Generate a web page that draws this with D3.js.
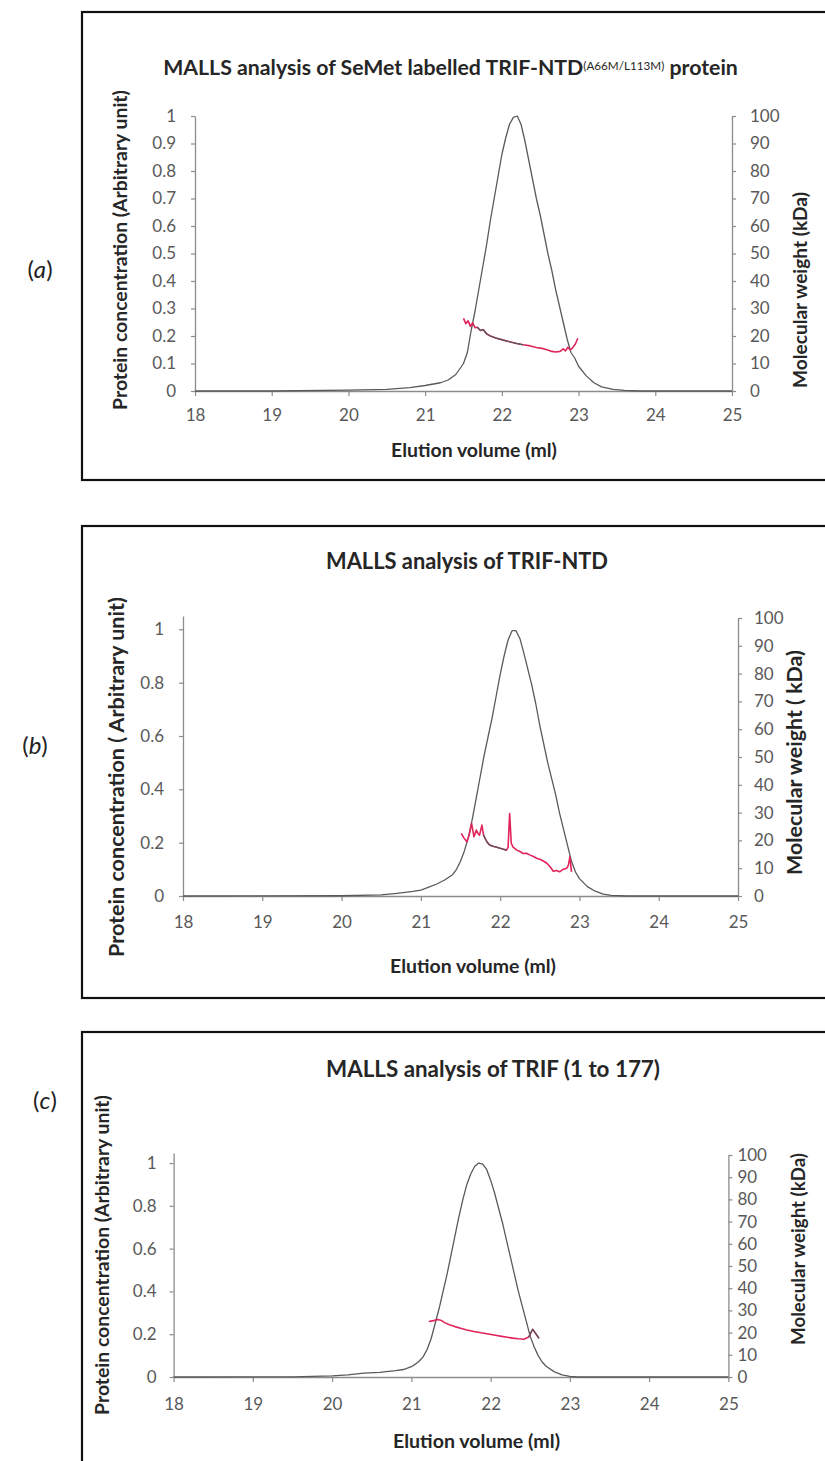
<!DOCTYPE html>
<html>
<head>
<meta charset="utf-8">
<script src="https://cdn.jsdelivr.net/npm/d3@7"></script>
<style>
  html, body { margin: 0; padding: 0; background: #fff; }
  svg { display: block; }
  text { font-family: Lato, "Open Sans", sans-serif; }
</style>
</head>
<body>
<svg id="fig" width="825" height="1461"></svg>
<script>
// ---- Axis ticks shared by the three chromatograms ----
const elutionTicks = [18, 19, 20, 21, 22, 23, 24, 25];
const concTicksFine = [0, 0.1, 0.2, 0.3, 0.4, 0.5, 0.6, 0.7, 0.8, 0.9, 1];
const concTicksCoarse = [0, 0.2, 0.4, 0.6, 0.8, 1];
const mwTicks = [0, 10, 20, 30, 40, 50, 60, 70, 80, 90, 100];

// ---- (a) SeMet labelled TRIF-NTD(A66M/L113M) ----
const volA  = [18, 19, 20.0, 20.5, 20.8, 21.0, 21.2, 21.3, 21.4, 21.5, 21.55, 21.6, 21.65, 21.7, 21.75, 21.8, 21.85, 21.9, 21.95, 22.0, 22.05, 22.1, 22.15, 22.2, 22.25, 22.3, 22.35, 22.4, 22.45, 22.5, 22.55, 22.6, 22.65, 22.7, 22.75, 22.8, 22.85, 22.9, 22.95, 23.0, 23.1, 23.2, 23.3, 23.45, 23.6, 23.8, 25];
const concA = [0, 0, 0.003, 0.006, 0.012, 0.02, 0.03, 0.04, 0.06, 0.10, 0.14, 0.22, 0.29, 0.37, 0.45, 0.53, 0.62, 0.70, 0.78, 0.86, 0.92, 0.97, 0.995, 1.0, 0.97, 0.91, 0.84, 0.77, 0.70, 0.64, 0.57, 0.50, 0.44, 0.37, 0.31, 0.25, 0.19, 0.14, 0.12, 0.09, 0.055, 0.03, 0.015, 0.006, 0.002, 0, 0];
const mwVolA = [21.50, 21.53, 21.56, 21.59, 21.62, 21.65, 21.68, 21.72, 21.76, 21.80, 21.85, 21.93, 22.02, 22.10, 22.19, 22.28, 22.37, 22.45, 22.54, 22.60, 22.65, 22.70, 22.76, 22.80, 22.83, 22.86, 22.89, 22.92, 22.96, 22.99];
const mwA    = [26.4, 24.5, 25.5, 23.5, 24.8, 23.0, 23.2, 22.0, 22.3, 20.8, 20.0, 19.2, 18.5, 17.9, 17.3, 16.8, 16.4, 15.8, 15.4, 14.9, 14.4, 14.2, 14.4, 15.3, 14.6, 15.9, 15.0, 15.6, 17.2, 19.2];
const mwDarkA = [21.66, 22.36];

// ---- (b) TRIF-NTD ----
const volB  = [18, 20.0, 20.5, 20.7, 20.9, 21.0, 21.1, 21.2, 21.3, 21.4, 21.45, 21.5, 21.55, 21.6, 21.65, 21.7, 21.75, 21.8, 21.85, 21.9, 21.95, 22.0, 22.05, 22.1, 22.15, 22.2, 22.25, 22.3, 22.35, 22.4, 22.45, 22.5, 22.55, 22.6, 22.65, 22.7, 22.75, 22.8, 22.85, 22.9, 22.95, 23.0, 23.1, 23.2, 23.3, 23.4, 23.6, 25];
const concB = [0, 0.001, 0.004, 0.01, 0.017, 0.022, 0.033, 0.045, 0.06, 0.08, 0.10, 0.13, 0.17, 0.22, 0.29, 0.37, 0.45, 0.53, 0.60, 0.67, 0.75, 0.83, 0.90, 0.96, 0.995, 0.995, 0.965, 0.91, 0.85, 0.79, 0.72, 0.64, 0.57, 0.50, 0.44, 0.38, 0.31, 0.25, 0.19, 0.13, 0.09, 0.065, 0.035, 0.018, 0.007, 0.002, 0, 0];
const mwVolB = [21.51, 21.54, 21.58, 21.61, 21.64, 21.67, 21.70, 21.72, 21.74, 21.77, 21.79, 21.81, 21.84, 21.87, 21.92, 21.96, 22.02, 22.08, 22.10, 22.12, 22.14, 22.16, 22.21, 22.25, 22.29, 22.33, 22.38, 22.42, 22.46, 22.50, 22.55, 22.59, 22.63, 22.67, 22.71, 22.75, 22.79, 22.84, 22.86, 22.88, 22.90];
const mwB    = [22.5, 21.0, 19.5, 22.0, 26.1, 21.3, 23.7, 22.5, 21.9, 25.5, 22.0, 20.7, 19.2, 18.3, 17.8, 17.5, 17.0, 16.5, 17.5, 29.7, 19.0, 17.7, 16.5, 16.0, 15.3, 15.4, 14.7, 14.2, 13.6, 13.2, 12.5, 11.8, 10.5, 8.9, 9.2, 8.7, 9.5, 10.0, 11.0, 14.1, 8.7];
const mwDarkB = [21.79, 22.09];

// ---- (c) TRIF (1 to 177) ----
const volC  = [18, 19.5, 20.0, 20.2, 20.4, 20.6, 20.8, 20.9, 21.0, 21.05, 21.1, 21.15, 21.2, 21.25, 21.3, 21.35, 21.4, 21.45, 21.5, 21.55, 21.6, 21.65, 21.7, 21.75, 21.8, 21.85, 21.9, 21.95, 22.0, 22.05, 22.1, 22.15, 22.2, 22.25, 22.3, 22.35, 22.4, 22.45, 22.5, 22.55, 22.6, 22.65, 22.7, 22.8, 22.9, 23.0, 23.1, 25];
const concC = [0, 0.001, 0.005, 0.01, 0.018, 0.022, 0.03, 0.035, 0.048, 0.06, 0.075, 0.095, 0.13, 0.18, 0.25, 0.32, 0.40, 0.48, 0.57, 0.66, 0.75, 0.83, 0.90, 0.95, 0.985, 1.0, 0.995, 0.97, 0.92, 0.86, 0.79, 0.72, 0.64, 0.56, 0.48, 0.40, 0.33, 0.26, 0.19, 0.14, 0.10, 0.07, 0.05, 0.025, 0.01, 0.003, 0, 0];
const mwVolC = [21.22, 21.28, 21.33, 21.37, 21.42, 21.48, 21.55, 21.62, 21.70, 21.79, 21.88, 21.97, 22.06, 22.14, 22.21, 22.28, 22.35, 22.42, 22.48, 22.53, 22.57, 22.61];
const mwC    = [25.0, 25.4, 25.9, 25.6, 24.5, 23.5, 22.7, 22.0, 21.2, 20.5, 19.9, 19.4, 18.8, 18.3, 17.9, 17.5, 17.2, 17.0, 18.0, 21.5, 19.5, 17.4];
const mwDarkC = [22.47, 22.62];

const zip = (xs, ys) => xs.map((x, i) => [x, ys[i]]);

const panels = [
  {
    tag: "a", tagPos: [40, 272],
    box: [82, 12, 760, 468],
    xRange: [195, 732], y0: 391, yTopLeft: 116, leftMax: 1, yTopRight: 116,
    leftTicks: concTicksFine, tickLabelY: 27, leftGap: 15, rightGap: 14,
    title: [{ t: "MALLS analysis of SeMet labelled TRIF-NTD" }, { t: "(A66M/L113M)", sup: true }, { t: " protein" }],
    titleBox: [163, 738, 75],
    xTitle: [391, 557, 452],
    yTitleLeft: { x: 122, y0: 90, y1: 410, text: "Protein concentration (Arbitrary unit)" },
    yTitleRight: { x: 802, y0: 192, y1: 388, text: "Molecular weight (kDa)" },
    vol: volA, conc: concA, mwVol: mwVolA, mw: mwA, dark: mwDarkA
  },
  {
    tag: "b", tagPos: [35, 748],
    box: [82, 526, 760, 472],
    xRange: [183, 738], y0: 896, yTopLeft: 616, leftMax: 1.05, yTopRight: 618,
    leftTicks: concTicksCoarse, tickLabelY: 29, leftGap: 15, rightGap: 12,
    title: [{ t: "MALLS analysis of TRIF-NTD" }],
    titleBox: [326, 608, 569],
    xTitle: [390, 556, 968],
    yTitleLeft: { x: 118, y0: 597, y1: 957, text: "Protein concentration ( Arbitrary unit)" },
    yTitleRight: { x: 797, y0: 650, y1: 875, text: "Molecular weight ( kDa)" },
    vol: volB, conc: concB, mwVol: mwVolB, mw: mwB, dark: mwDarkB
  },
  {
    tag: "c", tagPos: [45, 1103],
    box: [82, 1032, 760, 450],
    xRange: [173.6, 728.4], y0: 1377, yTopLeft: 1153, leftMax: 1.047, yTopRight: 1155,
    leftTicks: concTicksCoarse, tickLabelY: 30, leftGap: 13, rightGap: 5,
    title: [{ t: "MALLS analysis of TRIF (1 to 177)" }],
    titleBox: [326, 660, 1077],
    xTitle: [393, 560, 1443],
    yTitleLeft: { x: 104, y0: 1095, y1: 1415, text: "Protein concentration (Arbitrary unit)" },
    yTitleRight: { x: 800, y0: 1153, y1: 1345, text: "Molecular weight (kDa)" },
    vol: volC, conc: concC, mwVol: mwVolC, mw: mwC, dark: mwDarkC
  }
];

const svg = d3.select("#fig");
const AXIS = "#8c8c8c", TICKTXT = "#595959", TEXT = "#262626";
const TRACE = "#5a5a5a", MWRED = "#e0245a", MWDARK = "#4d5a58";
const fmt = d => String(+d.toFixed(2));

// scale a text element's font size so that its run spans the given length
function fitText(sel, length) {
  const node = sel.node();
  const fs = parseFloat(sel.attr("font-size"));
  const w = node.getComputedTextLength();
  if (w > 0) sel.attr("font-size", (fs * length / w).toFixed(2));
}

panels.forEach(p => {
  const g = svg.append("g");

  // frame around each chart
  g.append("rect")
    .attr("x", p.box[0]).attr("y", p.box[1])
    .attr("width", p.box[2]).attr("height", p.box[3])
    .attr("fill", "none").attr("stroke", "#111").attr("stroke-width", 2.2);

  const tag = g.append("text")
    .attr("x", p.tagPos[0]).attr("y", p.tagPos[1])
    .attr("text-anchor", "middle").attr("dominant-baseline", "middle")
    .attr("font-size", 24).attr("fill", "#222");
  tag.append("tspan").text("(");
  tag.append("tspan").text(p.tag).attr("font-style", "italic");
  tag.append("tspan").text(")");

  const x = d3.scaleLinear().domain([18, 25]).range(p.xRange);
  const yL = d3.scaleLinear().domain([0, p.leftMax]).range([p.y0, p.yTopLeft]);
  const yR = d3.scaleLinear().domain([0, 100]).range([p.y0, p.yTopRight]);

  const styleAxis = sel => {
    sel.select(".domain").attr("stroke", AXIS).attr("stroke-width", 1.3);
    sel.selectAll(".tick line").attr("stroke", AXIS).attr("stroke-width", 1.2);
    sel.selectAll(".tick text").attr("fill", TICKTXT).attr("font-size", 17)
      .attr("font-family", "Lato, sans-serif");
  };

  g.append("g").attr("transform", `translate(0,${p.y0})`)
    .call(d3.axisBottom(x).tickValues(elutionTicks).tickFormat(fmt)
      .tickSize(5).tickSizeOuter(0).tickPadding(p.tickLabelY - 14))
    .call(styleAxis);

  g.append("g").attr("transform", `translate(${p.xRange[0]},0)`)
    .call(d3.axisLeft(yL).tickValues(p.leftTicks).tickFormat(fmt)
      .tickSize(4).tickSizeOuter(0).tickPadding(p.leftGap))
    .call(styleAxis);

  g.append("g").attr("transform", `translate(${p.xRange[1]},0)`)
    .call(d3.axisRight(yR).tickValues(mwTicks).tickFormat(fmt)
      .tickSize(4).tickSizeOuter(0).tickPadding(p.rightGap))
    .call(styleAxis);

  // concentration trace (refractive index signal)
  const conc = zip(p.vol, p.conc);
  g.append("path").datum(conc)
    .attr("d", d3.line().x(d => x(d[0])).y(d => yL(d[1])))
    .attr("fill", "none").attr("stroke", TRACE).attr("stroke-width", 1.3)
    .attr("stroke-linejoin", "round");

  // molar mass across the peak
  const mw = zip(p.mwVol, p.mw);
  const mwLine = d3.line().x(d => x(d[0])).y(d => yR(d[1]));
  g.append("path").datum(mw).attr("d", mwLine)
    .attr("fill", "none").attr("stroke", MWRED).attr("stroke-width", 1.6)
    .attr("stroke-linejoin", "round");
  g.append("path").datum(mw.filter(d => d[0] >= p.dark[0] && d[0] <= p.dark[1]))
    .attr("d", mwLine)
    .attr("fill", "none").attr("stroke", MWDARK).attr("stroke-width", 1.2)
    .attr("stroke-linejoin", "round");

  // chart title with optional superscript run
  const [tx0, tx1, ty] = p.titleBox;
  const title = g.append("text")
    .attr("x", (tx0 + tx1) / 2).attr("y", ty)
    .attr("text-anchor", "middle").attr("font-size", 21).attr("font-weight", 700)
    .attr("fill", TEXT);
  p.title.forEach(run => {
    const ts = title.append("tspan").text(run.t);
    if (run.sup) ts.attr("font-size", "0.55em").attr("font-weight", 400).attr("dy", "-0.45em");
    else if (run.t.startsWith(" ")) ts.attr("dy", "0.25em");
  });
  fitText(title, tx1 - tx0);

  const xt = g.append("text").text("Elution volume (ml)")
    .attr("x", (p.xTitle[0] + p.xTitle[1]) / 2).attr("y", p.xTitle[2])
    .attr("text-anchor", "middle").attr("dominant-baseline", "middle")
    .attr("font-size", 18).attr("font-weight", 700).attr("fill", TEXT);
  fitText(xt, p.xTitle[1] - p.xTitle[0]);

  [p.yTitleLeft, p.yTitleRight].forEach(t => {
    const yt = g.append("text").text(t.text)
      .attr("transform", `translate(${t.x},${(t.y0 + t.y1) / 2}) rotate(-90)`)
      .attr("text-anchor", "middle").attr("dominant-baseline", "middle")
      .attr("font-size", 18).attr("font-weight", 700).attr("fill", TEXT);
    fitText(yt, t.y1 - t.y0);
  });
});
</script>
</body>
</html>
